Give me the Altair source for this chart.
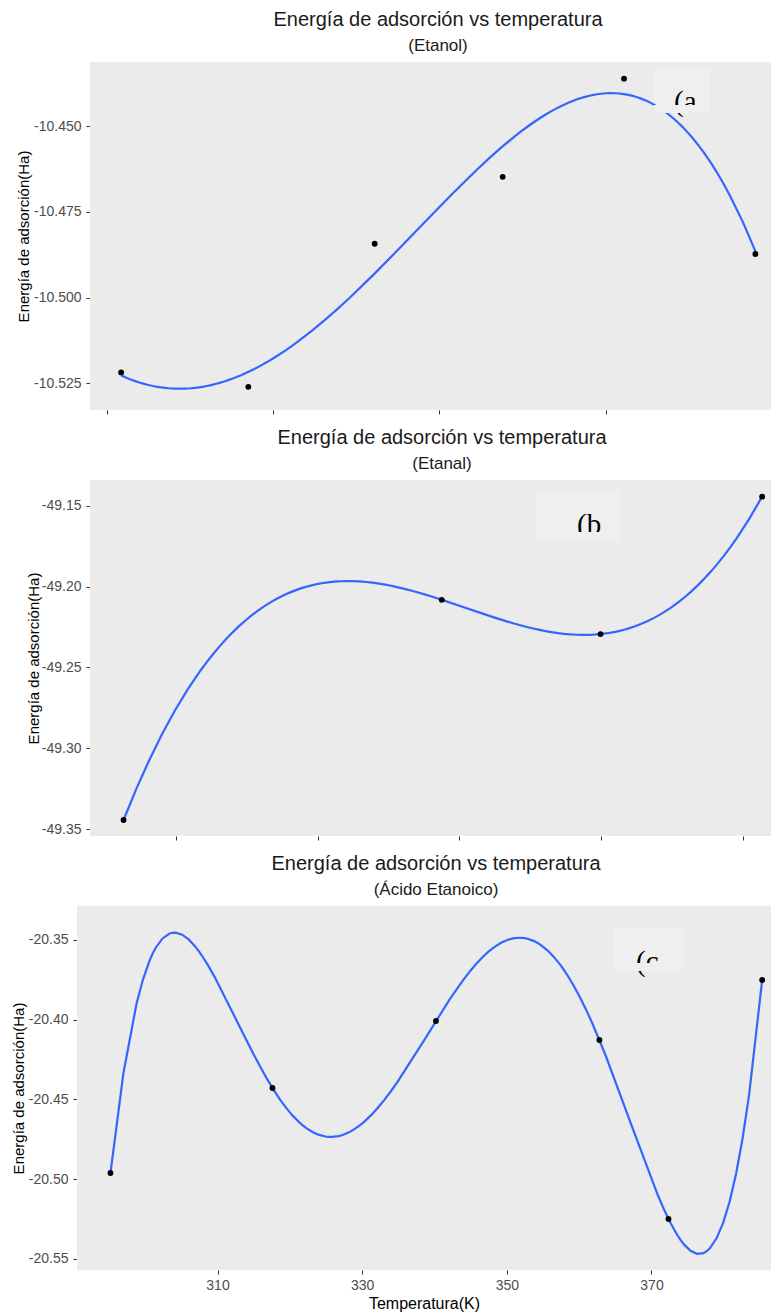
import altair as alt
import pandas as pd

# ---------------- data ----------------
# (a) Etanol
temp_a = [301.7, 317.0, 332.2, 347.6, 362.2, 378.0]
energy_a = [-10.5218, -10.5260, -10.4843, -10.4648, -10.4362, -10.4873]
# (b) Etanal
temp_b = [292.6, 337.5, 359.9, 382.7]
energy_b = [-49.3444, -49.2082, -49.2294, -49.1444]
# (c) Acido Etanoico
temp_c = [295.2, 317.6, 340.2, 362.8, 372.35, 385.3]
energy_c = [-20.4961, -20.4428, -20.4008, -20.4127, -20.5249, -20.3751]

main_title = "Energía de adsorción vs temperatura"
subtitles = ["(Etanol)", "(Etanal)", "(Ácido Etanoico)"]
panel_tags = ["(a", "(b", "(c"]
y_title = "Energía de adsorción(Ha)"
x_title = "Temperatura(K)"

y_ticks_a = [-10.525, -10.500, -10.475, -10.450]
y_ticks_b = [-49.35, -49.30, -49.25, -49.20, -49.15]
y_ticks_c = [-20.55, -20.50, -20.45, -20.40, -20.35]
x_ticks_ab = [300, 320, 340, 360, 380]
x_ticks_c = [310, 330, 350, 370]

MINUS_FIX = "replace(datum.label, '\u2212', '-')"
PANEL_BG = "#EBEBEB"
BOX_BG = "#EFEFEF"
W = 694


def panel(temps, energies, order, xdom, ydom, yticks, yfmt, xticks, show_x,
          subtitle, tag, height, title_pad, inset, box, tag_xy, cut_y, title_dx):
    df = pd.DataFrame({"T": temps, "E": energies})
    base = alt.Chart(df)
    x_axis = alt.Axis(values=xticks, labels=show_x, title=x_title if show_x else None,
                      tickSize=4, labelPadding=4, titlePadding=3)
    y_axis = alt.Axis(values=yticks, format=yfmt, labelExpr=MINUS_FIX, title=y_title,
                      tickSize=4, labelPadding=5, titlePadding=title_pad, offset=-inset)
    xenc = alt.X("T:Q", scale=alt.Scale(domain=xdom, nice=False, zero=False), axis=x_axis)
    yenc = alt.Y("E:Q", scale=alt.Scale(domain=ydom, nice=False, zero=False), axis=y_axis)

    deco = pd.DataFrame({"tag": [tag]})
    bg = alt.Chart(deco).mark_rect(color=PANEL_BG).encode(
        x=alt.value(inset), x2=alt.value(W), y=alt.value(0), y2=alt.value(height))

    line = (
        base.transform_calculate(xs="(datum.T - 340) / 45")
        .transform_regression("xs", "E", method="poly", order=order)
        .transform_calculate(T="datum.xs * 45 + 340")
        .mark_line(color="#3366FF", strokeWidth=2.2, clip=True)
        .encode(x=xenc, y=yenc)
    )
    pts = base.mark_circle(size=34, color="black", opacity=1).encode(x=xenc, y=yenc)

    bx1, bx2, by1, by2 = box
    boxl = alt.Chart(deco).mark_rect(color=BOX_BG).encode(
        x=alt.value(bx1), x2=alt.value(bx2), y=alt.value(by1), y2=alt.value(by2))
    txt = alt.Chart(deco).mark_text(align="left", baseline="alphabetic",
                                    font="Liberation Serif", fontSize=29, color="black").encode(
        x=alt.value(tag_xy[0]), y=alt.value(tag_xy[1]), text="tag:N")
    cover = alt.Chart(deco).mark_rect(color=BOX_BG).encode(
        x=alt.value(bx1), x2=alt.value(bx2), y=alt.value(cut_y), y2=alt.value(by2))

    return alt.layer(bg, boxl, line, pts, txt, cover).properties(
        width=W, height=height,
        title=alt.Title(main_title, subtitle=subtitle, dx=title_dx),
        view=alt.ViewBackground(fill="transparent", stroke="transparent"),
    )


pa = panel(temp_a, energy_a, 4, [296.391, 379.880], [-10.53275, -10.43135], y_ticks_a, ".3f",
           x_ticks_ab, False, subtitles[0], panel_tags[0], 348, 2, 13,
           (577, 633, 6, 51), (597, 49), 43, 14)
pb = panel(temp_b, energy_b, 3, [286.032, 383.951], [-49.3543, -49.1341], y_ticks_b, ".2f",
           x_ticks_ab, False, subtitles[1], panel_tags[1], 356, 0, 13,
           (460, 543, 10, 60), (500, 54), 52, 18)
pc = panel(temp_c, energy_c, 5, [290.575, 386.521], [-20.5569, -20.3287], y_ticks_c, ".2f",
           x_ticks_c, True, subtitles[2], panel_tags[2], 364, 2, 0,
           (537, 607, 23, 65), (559, 65), 57, 12)

chart = (
    alt.concat(pa, pb, pc, columns=1, spacing=12)
    .properties(padding={"left": 2, "top": 1, "right": 0, "bottom": 2})
    .configure_view(stroke="transparent")
    .configure_axis(domain=False, grid=False, tickColor="#333333", labelColor="#4D4D4D",
                    labelFont="Liberation Sans", labelFontSize=14,
                    titleFont="Liberation Sans", titleFontSize=15, titleFontWeight="normal",
                    titleColor="#000000")
    .configure_axisX(titleFontSize=16)
    .configure_title(font="Liberation Sans", fontSize=20, fontWeight="normal", color="#1A1A1A",
                     subtitleFont="Liberation Sans", subtitleFontSize=17, subtitleColor="#1A1A1A",
                     anchor="middle", frame="group", offset=8, subtitlePadding=8)
)

chart.save("out.html", embed_options={"renderer": "svg", "actions": False})
